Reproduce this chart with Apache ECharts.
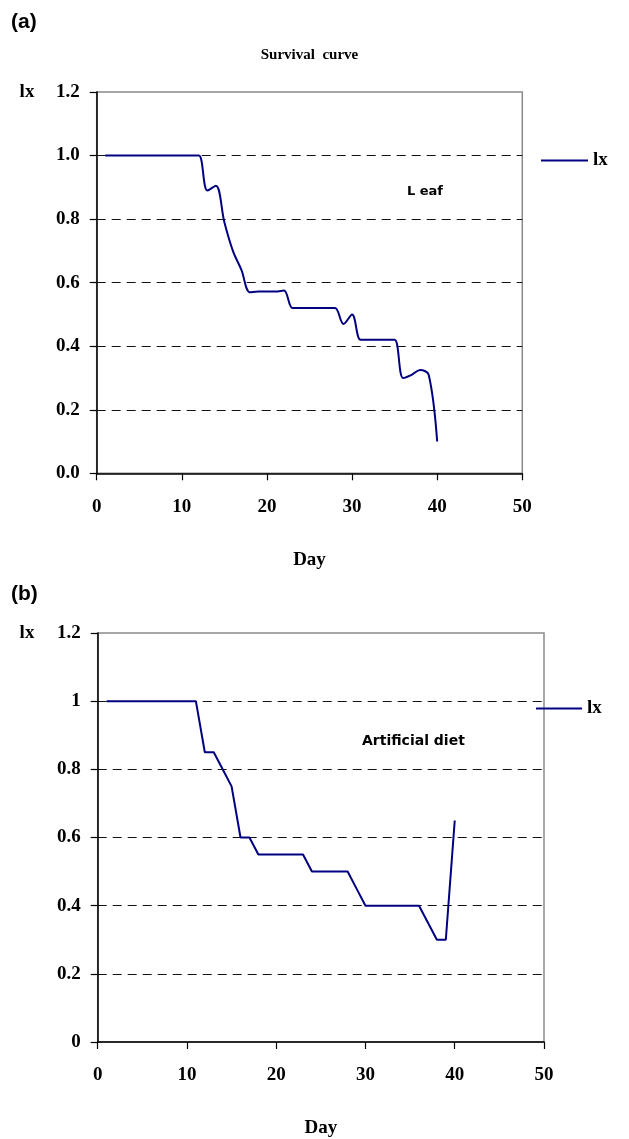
<!DOCTYPE html>
<html>
<head>
<meta charset="utf-8">
<script src="https://cdn.jsdelivr.net/npm/echarts@6/dist/echarts.min.js"></script>
<style>
html,body{margin:0;padding:0;background:#fff;}
#c{width:629px;height:1139px;}
</style>
</head>
<body>
<div id="c"></div>
<script>
// ---- data ----
const days = [1,2,3,4,5,6,7,8,9,10,11,12,13,14,15,16,17,18,19,20,21,22,23,24,25,26,27,28,29,30,31,32,33,34,35,36,37,38,39,40];
const lxLeaf = [1,1,1,1,1,1,1,1,1,1,1,1,0.89,0.905,0.79,0.70,0.64,0.57,0.572,0.572,0.572,0.575,0.52,0.52,0.52,0.52,0.52,0.52,0.47,0.50,0.42,0.42,0.42,0.42,0.42,0.30,0.31,0.325,0.31,0.10];
const lxDiet = [1,1,1,1,1,1,1,1,1,1,1,0.85,0.85,0.8,0.75,0.6,0.6,0.55,0.55,0.55,0.55,0.55,0.55,0.5,0.5,0.5,0.5,0.5,0.45,0.4,0.4,0.4,0.4,0.4,0.4,0.4,0.35,0.3,0.3,0.65];
const xTicks = [0,10,20,30,40,50];
const yTicks = [0,0.2,0.4,0.6,0.8,1.0,1.2];

const serif = '"Liberation Serif", "Times New Roman", serif';
const sans = '"Liberation Sans", Arial, sans-serif';
const navy = '#000080';

function xAxisCfg(gi){
  return {
    gridIndex: gi, type:'value', min:xTicks[0], max:xTicks[xTicks.length-1], interval:10,
    name:'Day', nameLocation:'middle', nameGap:77,
    nameTextStyle:{fontFamily:serif, fontWeight:'bold', fontSize:19, color:'#000'},
    axisLine:{show:true, onZero:false, lineStyle:{color:'#000', width:1.5}},
    axisTick:{show:true, inside:false, length:7, lineStyle:{color:'#000', width:1.2}},
    axisLabel:{fontFamily:serif, fontWeight:'bold', fontSize:19, color:'#000', margin:24},
    splitLine:{show:false}
  };
}
function yAxisCfg(gi, fmt){
  return {
    gridIndex: gi, type:'value', min:yTicks[0], max:yTicks[yTicks.length-1], interval:0.2,
    axisLine:{show:true, lineStyle:{color:'#000', width:1.5}},
    axisTick:{show:true, inside:false, length:7, lineStyle:{color:'#000', width:1.2}},
    axisLabel:{fontFamily:serif, fontWeight:'bold', fontSize:19, color:'#000', margin:17, formatter:fmt},
    splitLine:{show:true, showMinLine:false, showMaxLine:false,
      lineStyle:{color:'#111', width:1, type:[9,6]}}
  };
}

const option = {
  animation:false,
  backgroundColor:'#fff',
  grid:[
    {left:96.7, top:92, width:425.6, height:381.3, show:true, borderColor:'#8a8a8a', borderWidth:1.5, backgroundColor:'transparent'},
    {left:97.7, top:633, width:446.3, height:418, show:true, borderColor:'#8a8a8a', borderWidth:1.5, backgroundColor:'transparent'}
  ],
  xAxis:[xAxisCfg(0), xAxisCfg(1)],
  yAxis:[yAxisCfg(0, v => v.toFixed(1)), yAxisCfg(1, v => String(+v.toFixed(1)))],
  legend:[
    {left:541, top:151, padding:0, icon:'rect', itemWidth:47, itemHeight:2, itemGap:0,
     data:[{name:'lx'}], selectedMode:false,
     textStyle:{fontFamily:serif, fontWeight:'bold', fontSize:19, color:'#000'}},
    {left:536, top:699, padding:0, icon:'rect', itemWidth:46, itemHeight:2, itemGap:0,
     data:[{name:'lx'}], selectedMode:false,
     textStyle:{fontFamily:serif, fontWeight:'bold', fontSize:19, color:'#000'}}
  ],
  series:[
    {name:'lx', type:'line', xAxisIndex:0, yAxisIndex:0, smooth:0.35, symbol:'none',
     lineStyle:{color:navy, width:2}, itemStyle:{color:navy},
     data: days.map((d,i)=>[d, lxLeaf[i]])},
    {name:'lx', type:'line', xAxisIndex:1, yAxisIndex:1, smooth:false, symbol:'none',
     lineStyle:{color:navy, width:2}, itemStyle:{color:navy},
     data: days.map((d,i)=>[d, lxDiet[i]])}
  ],
  graphic:[
    {type:'text', left:11, top:12, style:{text:'(a)', font:'bold 21px '+sans, fill:'#000'}},
    {type:'text', left:11, top:584, style:{text:'(b)', font:'bold 21px '+sans, fill:'#000'}},
    {type:'text', x:309.5, y:55, style:{text:'Survival  curve', font:'bold 15px '+serif, fill:'#000', align:'center', verticalAlign:'middle'}},
    {type:'text', x:27, y:92, style:{text:'lx', font:'bold 19px '+serif, fill:'#000', align:'center', verticalAlign:'middle'}},
    {type:'text', x:27, y:633, style:{text:'lx', font:'bold 19px '+serif, fill:'#000', align:'center', verticalAlign:'middle'}},
    {type:'text', x:425, y:192, style:{text:'L eaf', font:'bold 13px "DejaVu Sans", sans-serif', fill:'#000', align:'center', verticalAlign:'middle'}},
    {type:'text', x:362, y:741, style:{text:'Artificial diet', font:'bold 14px "DejaVu Sans", sans-serif', fill:'#000', align:'left', verticalAlign:'middle'}}
  ]
};
const chart = echarts.init(document.getElementById('c'), null, {renderer:'canvas'});
chart.setOption(option);
</script>
</body>
</html>
